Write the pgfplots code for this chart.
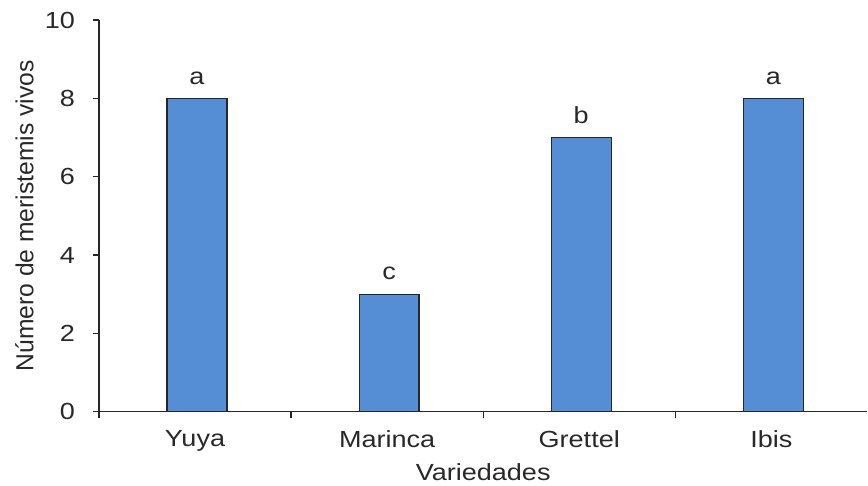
\documentclass[border=0pt]{standalone}
\usepackage{fontspec}
\setmainfont{Liberation Sans}
\newfontfamily\wide[FakeStretch=1.16]{Liberation Sans}
\usepackage{pgfplots}
\usepackage{pgfplotstable}
\pgfplotsset{compat=1.18}
\definecolor{barblue}{RGB}{85,142,213}
\definecolor{txt}{RGB}{40,40,40}

\pgfplotstableread{
x y lab
0 8 a
1 3 c
2 7 b
3 8 a
}\meristemos

\begin{document}
\begin{tikzpicture}
\begin{axis}[
  scale only axis,
  width=576.75pt, height=294pt,
  ybar, bar width=45pt, bar shift=1.5pt,
  xmin=-0.5, xmax=3.5, ymin=0, ymax=10,
  clip=false,
  axis x line*=bottom, axis y line*=left,
  axis line style={black!85, line width=0.9pt},
  every tick/.style={black!85, line width=0.9pt},
  tick align=outside,
  major tick length=4.5pt,
  xtick={0,1,2,3},
  xticklabels={Yuya,Marinca,Grettel,Ibis},
  x tick style={draw=none},
  extra x ticks={-0.5,0.5,1.5,2.5},
  extra x tick labels={},
  extra x tick style={x tick style={draw=black!85, line width=0.9pt}},
  ytick={0,2,4,6,8,10},
  /pgf/number format/assume math mode=true,
  tick label style={font=\wide\fontsize{17.5}{20}\selectfont, text=txt},
  xticklabel style={yshift=-6pt},
  yticklabel style={xshift=-10pt},
  label style={text=txt},
  xlabel={Variedades},
  ylabel={Número de meristemis vivos},
  xlabel style={font=\wide\fontsize{17.5}{20}\selectfont,
    at={(axis description cs:0.5,-0.155)}, anchor=center},
  ylabel style={font=\fontsize{18.5}{21}\selectfont,
    at={(axis description cs:-0.097,0.5)}, anchor=center},
  nodes near coords={\pgfplotspointmeta},
  point meta=explicit symbolic,
  nodes near coords style={font=\wide\fontsize{17.5}{20}\selectfont, text=txt, yshift=6.75pt},
]
\addplot[fill=barblue, draw=black!85, line width=0.9pt]
  table[x=x, y=y, meta=lab] {\meristemos};
\path (rel axis cs:0,0) ++(-74.25pt,-54.75pt);
\path (rel axis cs:1,1) ++(0pt,15pt);
\end{axis}
\end{tikzpicture}
\end{document}
